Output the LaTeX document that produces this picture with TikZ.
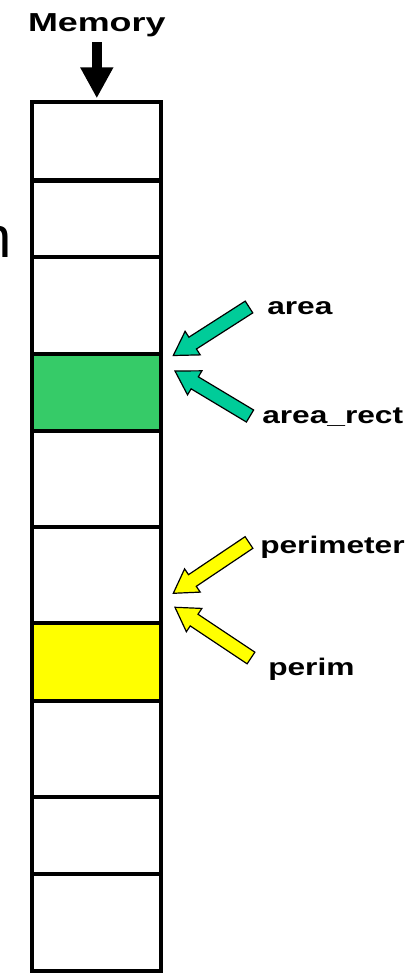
\documentclass[tikz,border=0pt]{standalone}
\usepackage{fontspec}
\setmainfont{Liberation Sans}
\usetikzlibrary{arrows.meta,calc}

\definecolor{cellgreen}{RGB}{54,203,104}
\definecolor{pointgreen}{RGB}{0,204,153}
\definecolor{pointyellow}{RGB}{255,255,0}

% fat slanted arrow with outline: #1 fill, #2 tail, #3 tip
\newcommand{\fatarrow}[3]{%
	\coordinate (headbase) at ($(#3)!23pt!(#2)$);
	\filldraw[fill=#1, draw=black, line width=1.2pt, line join=miter]
		($(#2)!7pt!90:(#3)$) -- ($(headbase)!7pt!90:(#3)$) -- ($(headbase)!14pt!90:(#3)$) -- (#3)
		-- ($(headbase)!14pt!-90:(#3)$) -- ($(headbase)!7pt!-90:(#3)$) -- ($(#2)!7pt!-90:(#3)$) -- cycle;
}

\begin{document}
\begin{tikzpicture}[x=1pt, y=-1pt,
		cell/.style={draw, line width=4.3pt, minimum width=129pt, inner sep=0pt, outer sep=0pt},
		lbl/.style={font=\bfseries\fontsize{24}{26}\selectfont, xscale=1.32, inner sep=0pt, anchor=base west}]
	\useasboundingbox (0,0) rectangle (411,973);

	% end of a word cut off at the left edge
	\node[font=\fontsize{58}{60}\selectfont, inner sep=0pt, anchor=base east] (cut) at (12,258) {n};

	% the memory column
	\foreach \i/\t/\b/\c in {1/102/180.5/white, 2/180.5/257/white, 3/257/354/white, 4/354/431/cellgreen,
			5/431/527/white, 6/527/623/white, 7/623/701/pointyellow, 8/701/797/white, 9/797/874/white, 10/874/971/white}
		\node[cell, fill=\c, minimum height={(\b-\t)*1pt}] (c\i) at (96.8,{(\t+\b)/2}) {};

	\node[font=\bfseries\fontsize{26}{28}\selectfont, xscale=1.38, inner sep=0pt, anchor=base] (memory) at (96.8,32) {Memory};
	\draw[line width=10pt, -{Triangle[length=31pt,width=31pt]}, shorten <=4.5pt, shorten >=3.7pt] (memory.south) -- (c1.north);

	% names pointing into the column
	\coordinate (areatail) at (249,307);
	\coordinate (areatip) at (173.3,355.5);
	\coordinate (recttail) at (250,416);
	\coordinate (recttip) at (175,371);
	\coordinate (perimetertail) at (249,542.5);
	\coordinate (perimetertip) at (173.3,593.3);
	\coordinate (perimtail) at (251,658);
	\coordinate (perimtip) at (175,607.3);

	\node[lbl] (area) at (267,314) {area};
	\node[lbl] (arearect) at (262,423) {area\_rect};
	\node[lbl] (perimeter) at (260,553) {perimeter};
	\node[lbl] (perim) at (268,675) {perim};

	\fatarrow{pointgreen}{areatail}{areatip}
	\fatarrow{pointgreen}{recttail}{recttip}
	\fatarrow{pointyellow}{perimetertail}{perimetertip}
	\fatarrow{pointyellow}{perimtail}{perimtip}
\end{tikzpicture}
\end{document}
